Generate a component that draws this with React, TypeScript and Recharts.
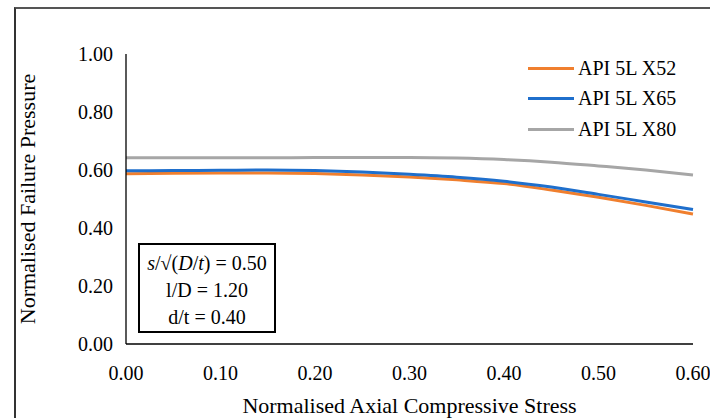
import React from 'react';
import { LineChart, Line, XAxis, YAxis } from 'recharts';

const stress = [0, 0.05, 0.1, 0.15, 0.2, 0.25, 0.3, 0.35, 0.4, 0.45, 0.5, 0.55, 0.6];
const x52 = [0.587, 0.589, 0.59, 0.59, 0.588, 0.583, 0.576, 0.566, 0.553, 0.531, 0.506, 0.478, 0.448];
const x65 = [0.597, 0.598, 0.599, 0.6, 0.598, 0.593, 0.585, 0.575, 0.561, 0.541, 0.516, 0.49, 0.464];
const x80 = [0.642, 0.642, 0.642, 0.642, 0.643, 0.643, 0.643, 0.641, 0.636, 0.627, 0.614, 0.6, 0.583];
const xTicks = [0, 0.1, 0.2, 0.3, 0.4, 0.5, 0.6];
const yTicks = [0, 0.2, 0.4, 0.6, 0.8, 1.0];

const seriesNames = ['API 5L X52', 'API 5L X65', 'API 5L X80'];
const seriesColors = ['#F07F2E', '#1F6FCC', '#A6A6A6'];

const data = stress.map((s, i) => ({ s, x52: x52[i], x65: x65[i], x80: x80[i] }));

const FONT = '"Liberation Serif", "DejaVu Serif", serif';

export default function App() {
  return (
    <div style={{ position: 'absolute', left: 0, top: 0, width: 710, height: 418, background: '#fff', overflow: 'hidden' }}>
      <div style={{ position: 'absolute', left: 14, top: 7, width: 720, height: 430, borderLeft: '2px solid #333', borderTop: '2px solid #555' }} />
      <LineChart width={710} height={418} data={data} margin={{ top: 54, right: 17, bottom: 0, left: 0 }} style={{ position: 'absolute', left: 0, top: 0 }}>
        <XAxis
          dataKey="s"
          type="number"
          domain={[0, 0.6]}
          ticks={xTicks}
          tickFormatter={(v: number) => v.toFixed(2)}
          tickLine={false}
          axisLine={{ stroke: '#000', strokeWidth: 1.3 }}
          tick={{ fill: '#000', fontSize: 20, fontFamily: FONT }}
          tickMargin={16}
          height={74}
          interval={0}
          label={{
            content: () => (
              <text x={409.5} y={405} textAnchor="middle" dominantBaseline="central" fontFamily={FONT} fontSize={22} fill="#000">
                Normalised Axial Compressive Stress
              </text>
            ),
          }}
        />
        <YAxis
          type="number"
          domain={[0, 1]}
          ticks={yTicks}
          tickFormatter={(v: number) => v.toFixed(2)}
          tickLine={false}
          axisLine={{ stroke: '#000', strokeWidth: 1.3 }}
          tick={{ fill: '#000', fontSize: 20, fontFamily: FONT }}
          tickMargin={7}
          width={126}
          interval={0}
          label={{
            content: () => (
              <text x={27} y={199} transform="rotate(-90 27 199)" textAnchor="middle" dominantBaseline="central" fontFamily={FONT} fontSize={22} fill="#000">
                Normalised Failure Pressure
              </text>
            ),
          }}
        />
        <Line type="monotone" dataKey="x52" name={seriesNames[0]} stroke={seriesColors[0]} strokeWidth={3} dot={false} isAnimationActive={false} />
        <Line type="monotone" dataKey="x65" name={seriesNames[1]} stroke={seriesColors[1]} strokeWidth={3} dot={false} isAnimationActive={false} />
        <Line type="monotone" dataKey="x80" name={seriesNames[2]} stroke={seriesColors[2]} strokeWidth={3} dot={false} isAnimationActive={false} />
      </LineChart>
      <div style={{ position: 'absolute', left: 528, top: 53, width: 180, fontFamily: FONT, fontSize: 20, color: '#000' }}>
        {seriesNames.map((n, i) => (
          <div key={n} style={{ display: 'flex', alignItems: 'center', height: 30.5 }}>
            <div style={{ width: 46, height: 3, background: seriesColors[i], marginRight: 4 }} />
            <span>{n}</span>
          </div>
        ))}
      </div>
      <div
        style={{
          position: 'absolute',
          left: 138,
          top: 243,
          width: 134,
          height: 81,
          border: '2px solid #000',
          fontFamily: FONT,
          fontSize: 20,
          color: '#000',
          textAlign: 'center',
          lineHeight: '27px',
          paddingTop: 5,
          boxSizing: 'content-box',
          background: '#fff',
        }}
      >
        <div><i>s</i>/√(<i>D</i>/<i>t</i>) = 0.50</div>
        <div>l/D = 1.20</div>
        <div>d/t = 0.40</div>
      </div>
    </div>
  );
}
